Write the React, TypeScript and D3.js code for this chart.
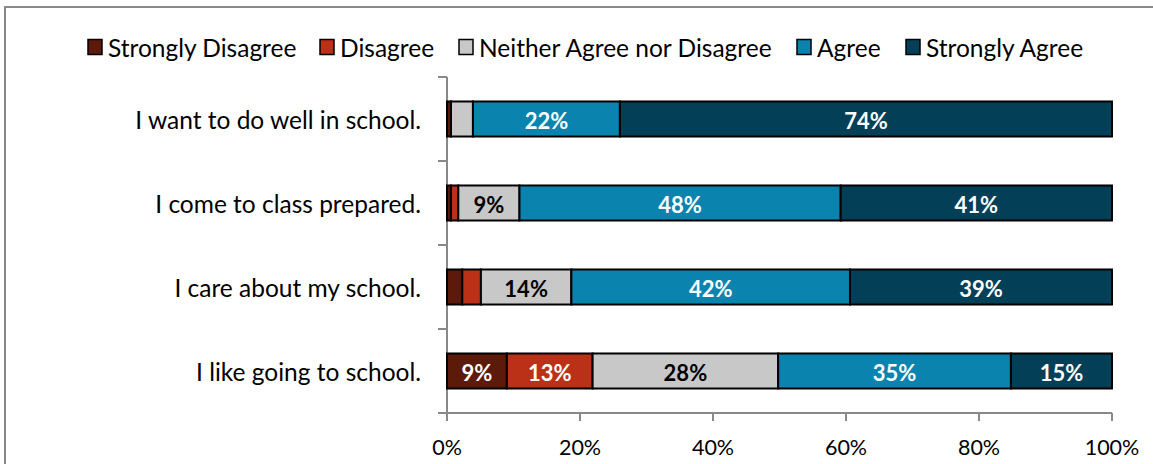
import React from "react";
import * as d3 from "d3";

const categories = [
  "I want to do well in school.",
  "I come to class prepared.",
  "I care about my school.",
  "I like going to school.",
];
const seriesNames = [
  "Strongly Disagree",
  "Disagree",
  "Neither Agree nor Disagree",
  "Agree",
  "Strongly Agree",
];
const stronglyDisagree = [0.6, 0.6, 2.3, 9.0];
const disagree = [0, 1.1, 2.8, 12.9];
const neither = [3.3, 9.2, 13.6, 27.9];
const agree = [22.1, 48.3, 41.9, 35.0];
const stronglyAgree = [74.0, 40.8, 39.4, 15.2];
const xTicks = [0, 20, 40, 60, 80, 100];

const colors = ["#5C1A0A", "#BA3117", "#C8C8C8", "#0A84AE", "#033F57"];
const labelColors = ["#fff", "#fff", "#000", "#fff", "#fff"];

const W = 1153;
const H = 464;
const FONT = "Lato, 'Open Sans', sans-serif";

export default function App() {
  const seriesValues = [stronglyDisagree, disagree, neither, agree, stronglyAgree];
  const rows = categories.map((c, i) => {
    const r: any = { cat: c };
    seriesNames.forEach((s, j) => (r[s] = seriesValues[j][i]));
    return r;
  });
  const stacked = d3.stack().keys(seriesNames)(rows);

  const x = d3.scaleLinear().domain([0, 100]).range([447, 1112]);
  const y = d3
    .scaleBand()
    .domain(categories)
    .range([77, 413])
    .paddingInner(0.583)
    .paddingOuter(0.2915);
  const [y0, y1] = y.range();
  const boundaries = d3.range(categories.length + 1).map((i) => y0 + i * y.step());
  const axisColor = "#898989";

  // legend layout (square left edges)
  const legendX = [88, 320, 459, 797, 906];

  return (
    <svg
      width={W}
      height={H}
      style={{ position: "absolute", left: 0, top: 0, background: "#fff" }}
      fontFamily={FONT}
    >
      <rect x={5} y={7} width={W + 20} height={H + 20} fill="#fff" stroke={axisColor} strokeWidth={2} />

      {/* legend */}
      {seriesNames.map((s, j) => (
        <g key={s} transform={`translate(${legendX[j]},47)`}>
          <rect x={0} y={-7.5} width={14} height={15} fill={colors[j]} stroke="#000" strokeWidth={1.5} />
          <text x={20} y={0} dominantBaseline="central" fontSize={24.5} fill="#000">
            {s}
          </text>
        </g>
      ))}

      {/* y axis */}
      <line x1={x(0)} x2={x(0)} y1={y0} y2={y1} stroke={axisColor} strokeWidth={2} />
      {boundaries.map((b, i) => (
        <line key={i} x1={x(0) - 9} x2={x(0)} y1={b} y2={b} stroke={axisColor} strokeWidth={2} />
      ))}
      {/* x axis */}
      <line x1={x(0) - 9} x2={x(100)} y1={y1} y2={y1} stroke={axisColor} strokeWidth={2} />
      {xTicks.map((t) => (
        <g key={t}>
          <line x1={x(t)} x2={x(t)} y1={y1} y2={y1 + 8} stroke={axisColor} strokeWidth={2} />
          <text x={x(t)} y={447} textAnchor="middle" dominantBaseline="central" fontSize={21.5} fill="#000">
            {t}%
          </text>
        </g>
      ))}

      {/* category labels */}
      {categories.map((c) => (
        <text
          key={c}
          x={421}
          y={(y(c) as number) + y.bandwidth() / 2}
          textAnchor="end"
          dominantBaseline="central"
          fontSize={24.5}
          fill="#000"
        >
          {c}
        </text>
      ))}

      {/* bars */}
      {stacked.map((layer, j) => (
        <g key={layer.key}>
          {layer.map((d: any, i) => {
            const w = x(d[1]) - x(d[0]);
            if (w <= 0) return null;
            return (
              <rect
                key={i}
                x={x(d[0])}
                y={y(categories[i])}
                width={w}
                height={y.bandwidth()}
                fill={colors[j]}
                stroke="#000"
                strokeWidth={2}
              />
            );
          })}
        </g>
      ))}

      {/* value labels */}
      {stacked.map((layer, j) => (
        <g key={"l" + layer.key}>
          {layer.map((d: any, i) => {
            const v = d[1] - d[0];
            if (v < 5) return null;
            return (
              <text
                key={i}
                x={(x(d[0]) + x(d[1])) / 2}
                y={(y(categories[i]) as number) + y.bandwidth() / 2 + 1}
                textAnchor="middle"
                dominantBaseline="central"
                fontSize={22}
                fontWeight="bold"
                fill={labelColors[j]}
              >
                {Math.round(v)}%
              </text>
            );
          })}
        </g>
      ))}
    </svg>
  );
}
